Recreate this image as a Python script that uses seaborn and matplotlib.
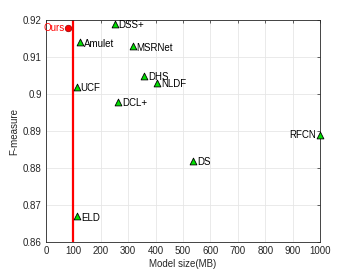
import numpy as np
import pandas as pd
import matplotlib
matplotlib.use("Agg")
import matplotlib.pyplot as plt
import seaborn as sns

# model sizes (MB) and F-measure of the compared methods
methods = ["Amulet", "DSS+", "MSRNet", "DHS", "NLDF", "UCF", "DCL+", "ELD", "DS", "RFCN"]
sizes = [125, 250, 316, 358, 406, 112, 264, 113, 537, 1000]
fmeasure = [0.914, 0.919, 0.913, 0.905, 0.903, 0.902, 0.898, 0.867, 0.882, 0.889]

ours_size = 80
ours_f = 0.918
ref_line = 100

xticks = [0, 100, 200, 300, 400, 500, 600, 700, 800, 900, 1000]
yticks = [0.86, 0.87, 0.88, 0.89, 0.9, 0.91, 0.92]

sns.set_style("whitegrid")
plt.rcParams['font.family'] = ['Liberation Sans', 'DejaVu Sans']

df = pd.DataFrame({"method": methods, "size": sizes, "f": fmeasure})

fig = plt.figure(figsize=(3.54, 2.72), dpi=100)
ax = fig.add_axes([0.13, 0.11, 0.774, 0.816])

ax.axvline(ref_line, color='red', lw=1.6, zorder=2)
sns.scatterplot(data=df, x="size", y="f", marker='^', s=24, color='#00e000',
                edgecolor='black', linewidth=0.6, ax=ax, zorder=3, clip_on=False)
ax.scatter([ours_size], [ours_f], marker='o', s=22, color='red',
           edgecolor='darkred', linewidth=0.5, zorder=3)

fs = 7
for m, x, y in zip(methods, sizes, fmeasure):
    if m == "RFCN":
        ax.text(x - 14, y, m, ha='right', va='center', fontsize=fs, color='black')
    else:
        ax.text(x + 14, y - 0.0004, m, ha='left', va='center', fontsize=fs, color='black')
ax.text(ours_size - 12, ours_f, "Ours", ha='right', va='center', fontsize=fs, color='red')

ax.set_xlim(0, 1000)
ax.set_ylim(0.86, 0.92)
ax.set_xticks(xticks)
ax.set_yticks(yticks)
ax.set_xticklabels([str(t) for t in xticks])
ax.set_yticklabels(["0.86", "0.87", "0.88", "0.89", "0.9", "0.91", "0.92"])
ax.set_xlabel("Model size(MB)", fontsize=fs, color='#262626', labelpad=2)
ax.set_ylabel("F-measure", fontsize=fs, color='#262626', labelpad=3)
ax.tick_params(labelsize=fs, colors='#262626', direction='in', length=2.5, width=0.5,
               top=True, right=True, pad=3)
ax.grid(True, color='#e6e6e6', lw=0.6)
for s in ax.spines.values():
    s.set_color('#262626')
    s.set_linewidth(0.6)

fig.savefig("out.png", dpi=100)
